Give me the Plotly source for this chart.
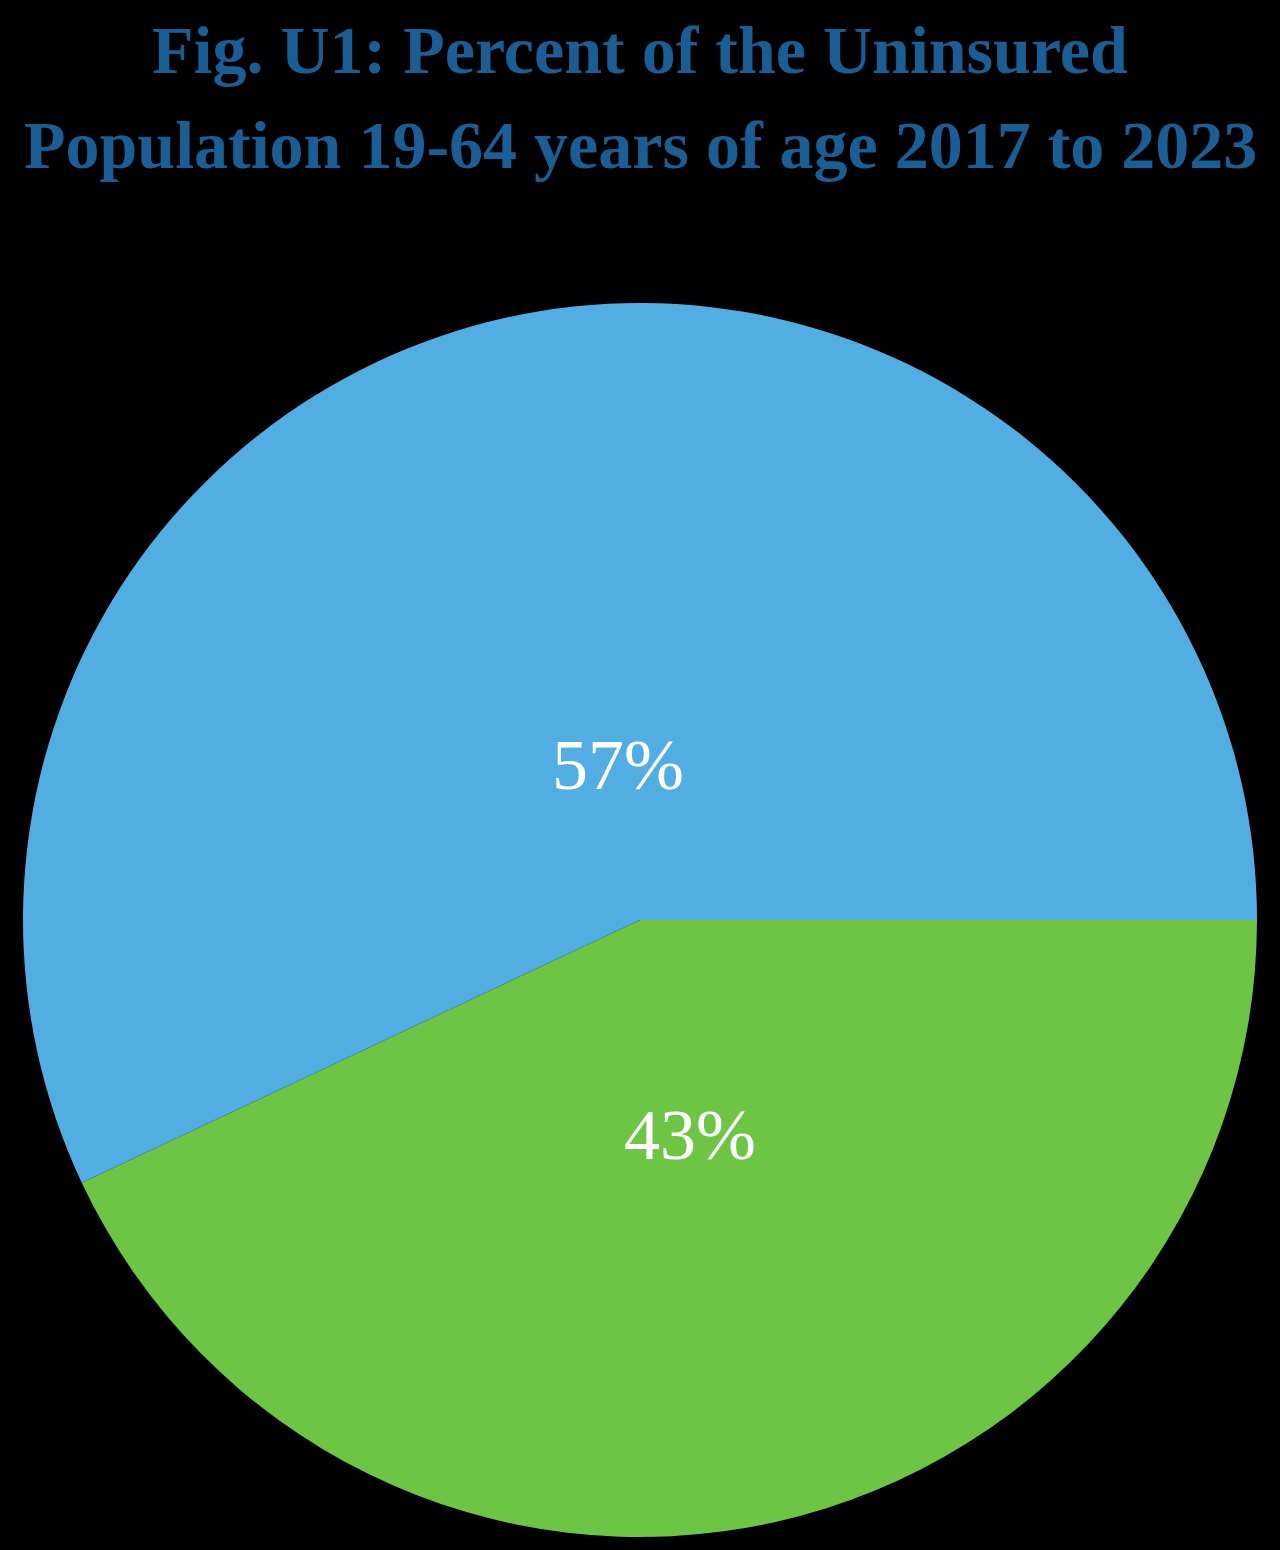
import plotly.graph_objects as go

labels = ["Group A", "Group B"]
values = [43, 57]
colors = ["#6EC444", "#52AEE2"]
title_lines = ["Fig. U1: Percent of the Uninsured",
               "Population 19-64 years of age 2017 to 2023"]

W, H = 1280, 1550
M_T, M_B, M_L, M_R = 303, 13, 15, 15
PH = H - M_T - M_B
PW = W - M_L - M_R

fig = go.Figure(go.Pie(
    labels=labels,
    values=values,
    sort=False,
    direction="clockwise",
    rotation=90,
    marker=dict(colors=colors, line=dict(width=0)),
    textinfo="none",
    showlegend=False,
    hoverinfo="label+percent",
))

# title lines (pixel centers from top)
title_font = dict(family="Liberation Serif", size=68, color="#1B5E95")
for line, ypx in zip(title_lines, [50, 145]):
    fig.add_annotation(text="<b>%s</b>" % line, x=0.5, xref="paper",
                       y=(H - M_B - ypx) / PH, yref="paper", yanchor="middle",
                       showarrow=False, font=title_font)

# percent labels placed inside slices (pixel centers)
total = sum(values)
label_px = [(690, 1135), (618, 765)]
for v, (xp, yp) in zip(values, label_px):
    fig.add_annotation(text="%d%%" % round(100 * v / total),
                       x=(xp - M_L) / PW, xref="paper",
                       y=(H - M_B - yp) / PH, yref="paper",
                       xanchor="center", yanchor="middle", showarrow=False,
                       font=dict(family="Liberation Serif", size=72, color="white"))

fig.update_layout(
    width=W, height=H,
    paper_bgcolor="black", plot_bgcolor="black",
    margin=dict(l=M_L, r=M_R, t=M_T, b=M_B),
)

fig.write_html("out.html", config={"displayModeBar": False},
               post_script="document.body.style.margin='0';document.body.style.background='black';")
